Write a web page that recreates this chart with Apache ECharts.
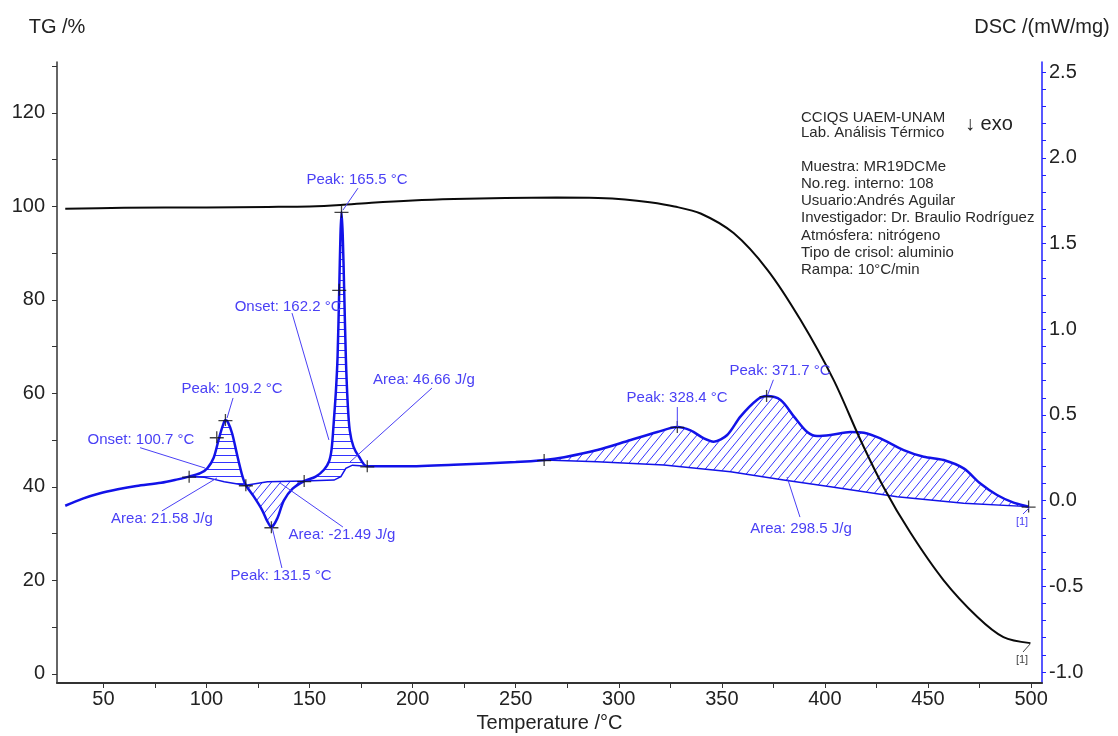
<!DOCTYPE html>
<html>
<head>
<meta charset="utf-8">
<script src="https://cdn.jsdelivr.net/npm/echarts@6/dist/echarts.min.js"></script>
<style>
  html, body { margin: 0; padding: 0; background: #ffffff; }
  #chart { width: 1118px; height: 736px; }
</style>
</head>
<body>
<div id="chart"></div>
<script>
// ---- Axis ticks ----
const temperatureTicks = [50, 100, 150, 200, 250, 300, 350, 400, 450, 500];
const temperatureMinorTicks = [50, 75, 100, 125, 150, 175, 200, 225, 250, 275, 300, 325, 350, 375, 400, 425, 450, 475, 500];
const tgTickLabels = [0, 20, 40, 60, 80, 100, 120];
const tgTicks = [0, 10, 20, 30, 40, 50, 60, 70, 80, 90, 100, 110, 120, 130];
const dscTickLabels = [-1.0, -0.5, 0.0, 0.5, 1.0, 1.5, 2.0, 2.5];
const dscTicks = [-1.0, -0.9, -0.8, -0.7, -0.6, -0.5, -0.4, -0.3, -0.2, -0.1, 0.0, 0.1, 0.2, 0.3, 0.4, 0.5, 0.6, 0.7, 0.8, 0.9,
  1.0, 1.1, 1.2, 1.3, 1.4, 1.5, 1.6, 1.7, 1.8, 1.9, 2.0, 2.1, 2.2, 2.3, 2.4, 2.5];

// ---- TG curve: [temperature °C, mass %] ----
const tgCurve = [
  [31.5, 99.5], [60, 99.7], [100, 99.8], [130, 99.9], [150, 100.0], [165, 100.3], [180, 100.8],
  [200, 101.3], [220, 101.6], [245, 101.8], [270, 101.9], [290, 101.8], [303, 101.5], [315, 100.9],
  [327, 100.0], [339.7, 98.5], [355.7, 94.3], [372.2, 86.4], [388.2, 75.7], [404.2, 62.9],
  [417.2, 50.1], [428.4, 40.0], [441.5, 30.2], [457.5, 20.1], [474, 12.2], [486.6, 7.9], [499.7, 6.6]
];

// ---- DSC curve: [temperature °C, mW/mg] ----
const dscCurve = [
  [31.5, -0.03], [40, 0.012], [48, 0.042], [57, 0.066], [66, 0.085], [78, 0.104], [86, 0.124],
  [91.6, 0.14], [97, 0.16], [100.5, 0.19], [103.5, 0.25], [106, 0.36], [108, 0.44], [109.2, 0.47],
  [110.5, 0.455], [112.5, 0.39], [115, 0.26], [117.5, 0.14], [119.1, 0.09], [123, 0.023],
  [127, -0.055], [129.5, -0.12], [131.5, -0.155], [134.5, -0.10], [137.5, 0.0], [141.8, 0.07],
  [147.4, 0.114], [153, 0.14], [157, 0.18], [159.5, 0.23], [160.7, 0.30], [161.7, 0.45],
  [162.8, 0.64], [163.6, 0.84], [164.4, 1.23], [165.0, 1.55], [165.5, 1.685], [166.1, 1.55],
  [166.8, 1.23], [167.6, 0.84], [168.5, 0.57], [169.5, 0.41], [171.3, 0.315], [174, 0.256],
  [178, 0.20], [194, 0.20], [220, 0.21], [250, 0.225], [263.8, 0.237], [273.5, 0.253],
  [289.6, 0.295], [305.8, 0.354], [318.7, 0.40], [328.4, 0.43], [334.8, 0.41], [341.3, 0.363],
  [346.1, 0.344], [352.6, 0.383], [359, 0.49], [367, 0.587], [371.7, 0.61], [378.5, 0.587],
  [385, 0.49], [391.4, 0.40], [396.2, 0.377], [402.7, 0.383], [412.4, 0.40], [418.9, 0.396],
  [426.9, 0.363], [438.2, 0.295], [447.9, 0.256], [457.6, 0.237], [467.3, 0.188], [475.4, 0.10],
  [483.5, 0.033], [491.5, -0.012], [498.8, -0.035]
];

// ---- Integration baselines for the DSC events ----
const baselineMelt1 = [[91.6, 0.14], [98.9, 0.136], [103.8, 0.124], [108.6, 0.11], [115.1, 0.097], [119.1, 0.09]];
const baselineExo = [[119.1, 0.09], [129.6, 0.11], [147.4, 0.114]];
const baselineMelt2 = [[147.4, 0.114], [161.9, 0.12], [165.2, 0.14], [167.6, 0.188], [170.8, 0.207], [178, 0.20]];
const baselineDecomp = [[263.8, 0.237], [289.6, 0.227], [321.9, 0.208], [354.2, 0.169], [380, 0.12],
  [402.7, 0.081], [435, 0.023], [467.3, -0.016], [498.8, -0.035]];

// Evaluated points marked with "+"
const dscMarkers = [
  [91.6, 0.14], [105.0, 0.37], [109.2, 0.47], [119.1, 0.09], [131.5, -0.155], [147.4, 0.114],
  [164.4, 1.23], [165.5, 1.685], [178, 0.20], [263.8, 0.237], [328.4, 0.43], [371.7, 0.61], [498.8, -0.035]
];

// Annotation texts with label position and leader line (data units)
const dscNotes = [
  { text: 'Peak: 109.2 °C',   at: [112.4, 0.651],  from: [112.9, 0.599],  to: [110.0, 0.482] },
  { text: 'Onset: 100.7 °C',  at: [68.2, 0.354],   from: [67.8, 0.309],   to: [99.3, 0.19] },
  { text: 'Area: 21.58 J/g',  at: [78.4, -0.107],  from: [78.4, -0.06],   to: [105.1, 0.132] },
  { text: 'Peak: 131.5 °C',   at: [136.2, -0.44],  from: [136.6, -0.393], to: [131.8, -0.154] },
  { text: 'Area: -21.49 J/g', at: [165.7, -0.20],  from: [166.2, -0.154], to: [135.7, 0.103] },
  { text: 'Peak: 165.5 °C',   at: [173.0, 1.87],   from: [173.5, 1.823],  to: [166.2, 1.695] },
  { text: 'Onset: 162.2 °C',  at: [139.6, 1.129],  from: [141.5, 1.094],  to: [159.4, 0.354] },
  { text: 'Area: 46.66 J/g',  at: [205.5, 0.704],  from: [209.4, 0.657],  to: [169.6, 0.225] },
  { text: 'Peak: 328.4 °C',   at: [328.3, 0.599],  from: [328.4, 0.546],  to: [328.4, 0.43] },
  { text: 'Peak: 371.7 °C',   at: [378.2, 0.756],  from: [375.0, 0.705],  to: [372.2, 0.616] },
  { text: 'Area: 298.5 J/g',  at: [388.4, -0.166], from: [387.9, -0.096], to: [381.6, 0.138] },
  { text: '[1]', small: true, at: [495.6, -0.125], from: [496.1, -0.078], to: [499.5, -0.037] }
];
const tgNotes = [
  { text: '[1]', small: true, at: [495.6, 3.0], from: [496.1, 4.7], to: [499.5, 6.4] }
];

const infoLines = [
  ['CCIQS UAEM-UNAM', 118], ['Lab. Análisis Térmico', 133],
  ['Muestra: MR19DCMe', 167], ['No.reg. interno: 108', 184], ['Usuario:Andrés Aguilar', 201],
  ['Investigador: Dr. Braulio Rodríguez', 218], ['Atmósfera: nitrógeno', 236],
  ['Tipo de crisol: aluminio', 253], ['Rampa: 10°C/min', 270]
];

const FONT = '"Liberation Sans", Arial, sans-serif';
const DSC_BLUE = '#1212e8';
const NOTE_BLUE = '#4a40f5';
const HATCH_BLUE = '#3333ff';

// Hatch patterns (canvas size is set before any drawing state)
function makeHatch(kind) {
  const c = document.createElement('canvas');
  if (kind === 'horizontal') {
    c.width = 4; c.height = 7;
  } else {
    c.width = 9; c.height = 11;
  }
  const ctx = c.getContext('2d');
  ctx.strokeStyle = HATCH_BLUE;
  ctx.lineWidth = 1;
  ctx.beginPath();
  if (kind === 'horizontal') {
    ctx.moveTo(0, 0.5); ctx.lineTo(4, 0.5);
  } else {
    const w = c.width, h = c.height;
    for (let k = -1; k <= 1; k++) {
      ctx.moveTo(k * w, h); ctx.lineTo((k + 1) * w, 0);
    }
  }
  ctx.stroke();
  return { image: c, repeat: 'repeat' };
}
const hatchH = makeHatch('horizontal');
const hatchD = makeHatch('diagonal');

const regions = [
  { from: 91.6, to: 119.1, baseline: baselineMelt1, fill: hatchH },
  { from: 119.1, to: 147.4, baseline: baselineExo, fill: hatchD },
  { from: 147.4, to: 178, baseline: baselineMelt2, fill: hatchH },
  { from: 263.8, to: 498.8, baseline: baselineDecomp, fill: hatchD }
];

function noteRenderer(notes) {
  return function (params, api) {
    const n = notes[params.dataIndex];
    const p = api.coord(n.at), a = api.coord(n.from), b = api.coord(n.to);
    return {
      type: 'group',
      children: [
        { type: 'line', shape: { x1: a[0], y1: a[1], x2: b[0], y2: b[1] },
          style: { stroke: n.color || NOTE_BLUE, lineWidth: 1 } },
        { type: 'text', x: p[0], y: p[1],
          style: { text: n.text, fill: n.color || NOTE_BLUE, font: (n.small ? '11px ' : '15px ') + FONT,
                   align: 'center', verticalAlign: 'middle' } }
      ]
    };
  };
}
tgNotes.forEach(n => { n.color = '#444'; });

const chart = echarts.init(document.getElementById('chart'), null, { renderer: 'canvas' });

const option = {
  animation: false,
  backgroundColor: '#ffffff',
  grid: { left: 57, right: 76, top: 62, bottom: 53, containLabel: false, outerBoundsMode: 'none' },
  xAxis: {
    type: 'value', min: 27.5, max: 505.3,
    name: 'Temperature /°C', nameLocation: 'middle', nameGap: 26,
    nameTextStyle: { fontSize: 20, color: '#222', fontFamily: FONT },
    axisLine: { show: true, onZero: false, lineStyle: { color: '#333', width: 2 } },
    axisTick: { show: true, customValues: temperatureMinorTicks, length: 5, lineStyle: { color: '#333' } },
    axisLabel: { customValues: temperatureTicks, fontSize: 20, color: '#222', fontFamily: FONT, margin: 6 },
    splitLine: { show: false }
  },
  yAxis: [
    {
      type: 'value', position: 'left', min: -1.93, max: 130.9,
      name: 'TG /%', nameLocation: 'end', nameGap: 25,
      nameTextStyle: { fontSize: 20, color: '#222', fontFamily: FONT, align: 'center' },
      axisLine: { show: true, onZero: false, lineStyle: { color: '#333', width: 1.5 } },
      axisTick: { show: true, customValues: tgTicks, length: 5, lineStyle: { color: '#333' } },
      axisLabel: { customValues: tgTickLabels, fontSize: 20, color: '#222', fontFamily: FONT, margin: 12 },
      splitLine: { show: false }
    },
    {
      type: 'value', position: 'right', min: -1.064, max: 2.559,
      name: 'DSC /(mW/mg)', nameLocation: 'end', nameGap: 25,
      nameTextStyle: { fontSize: 20, color: '#222', fontFamily: FONT, align: 'center' },
      axisLine: { show: true, onZero: false, lineStyle: { color: '#2020ff', width: 1.5 } },
      axisTick: { show: true, customValues: dscTicks, length: 4, lineStyle: { color: '#2020ff' } },
      axisLabel: { customValues: dscTickLabels, fontSize: 20, color: '#222', fontFamily: FONT, margin: 7,
                   formatter: v => Number(v).toFixed(1) },
      splitLine: { show: false }
    }
  ],
  graphic: infoLines.map(([t, y]) => ({
    type: 'text', x: 801, y: y,
    style: { text: t, font: '15px ' + FONT, fill: '#2a2a2a', verticalAlign: 'middle' }
  })).concat([{
    type: 'text', x: 965, y: 124,
    style: { text: '↓ exo', font: '20px ' + FONT, fill: '#222', verticalAlign: 'middle' }
  }]),
  series: [
    {
      name: 'hatched areas', type: 'custom', xAxisIndex: 0, yAxisIndex: 1, silent: true, z: 2,
      data: regions.map(r => [r.from, r.baseline[0][1]]),
      renderItem: function (params, api) {
        const r = regions[params.dataIndex];
        const upper = dscCurve.filter(p => p[0] >= r.from - 1e-9 && p[0] <= r.to + 1e-9);
        const pts = upper.concat(r.baseline.slice().reverse()).map(p => api.coord(p));
        return {
          type: 'group',
          children: [
            { type: 'polygon', shape: { points: pts }, style: { fill: r.fill, stroke: null } },
            { type: 'polyline', shape: { points: r.baseline.map(p => api.coord(p)) },
              style: { stroke: DSC_BLUE, lineWidth: 1.5, fill: null } }
          ]
        };
      }
    },
    {
      name: 'TG', type: 'line', xAxisIndex: 0, yAxisIndex: 0, data: tgCurve,
      showSymbol: false, smooth: 0.3, z: 4,
      lineStyle: { color: '#0a0a0a', width: 2 }
    },
    {
      name: 'DSC', type: 'line', xAxisIndex: 0, yAxisIndex: 1, data: dscCurve,
      showSymbol: false, smooth: 0.3, z: 3,
      lineStyle: { color: DSC_BLUE, width: 2.5 }
    },
    {
      name: 'evaluation points', type: 'scatter', xAxisIndex: 0, yAxisIndex: 1, data: dscMarkers, z: 5,
      symbol: 'path://M0,5.4H13V6.6H0Z M5.9,0H7.1V11H5.9Z', symbolSize: [14, 12],
      itemStyle: { color: '#111' }, silent: true
    },
    {
      name: 'DSC notes', type: 'custom', xAxisIndex: 0, yAxisIndex: 1, silent: true, z: 6,
      data: dscNotes.map(n => n.at), renderItem: noteRenderer(dscNotes)
    },
    {
      name: 'TG notes', type: 'custom', xAxisIndex: 0, yAxisIndex: 0, silent: true, z: 6,
      data: tgNotes.map(n => n.at), renderItem: noteRenderer(tgNotes)
    }
  ]
};
chart.setOption(option);
</script>
</body>
</html>
